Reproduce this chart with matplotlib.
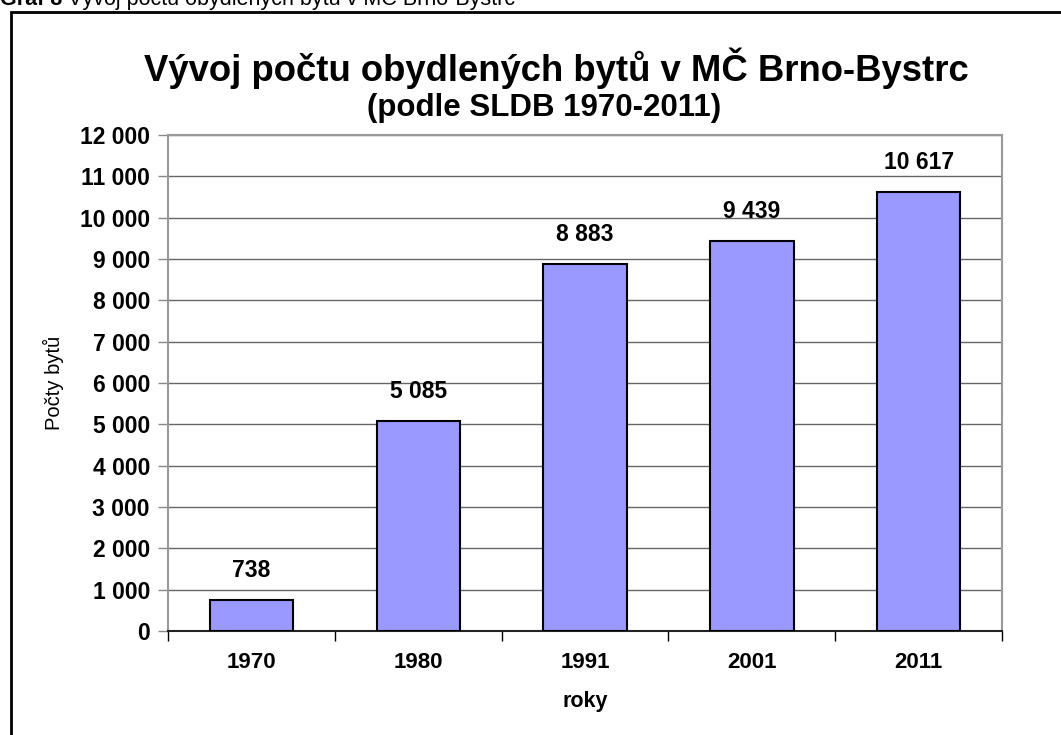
import matplotlib
matplotlib.use("Agg")
import matplotlib.pyplot as plt
from matplotlib.patches import Rectangle

plt.rcParams["font.family"] = ["Liberation Sans", "DejaVu Sans"]

years = ["1970", "1980", "1991", "2001", "2011"]
flats = [738, 5085, 8883, 9439, 10617]
labels = ["738", "5 085", "8 883", "9 439", "10 617"]
y_ticks = list(range(0, 12001, 1000))
y_tick_labels = [f"{v:,}".replace(",", " ") for v in y_ticks]

W, H = 1061, 735
fig = plt.figure(figsize=(W / 100, H / 100), dpi=100)

# outer frame (right and bottom edges fall outside the picture)
fig.patches.append(Rectangle((11 / W, -0.1), 1.2, 1 - 12 / H + 0.1,
                             transform=fig.transFigure, fill=False,
                             edgecolor="black", lw=2))

# caption above the frame, cut at the top edge like the source scan
cap = fig.text(0, 1 - 5 / H, "Graf 8", fontsize=15.5, fontweight="bold",
               va="baseline", ha="left")
fig.canvas.draw()
bb = cap.get_window_extent()
fig.text(bb.x1 / W, 1 - 5 / H, " Vývoj počtu obydlených bytů v MČ Brno-Bystrc",
         fontsize=15.5, va="baseline", ha="left")

ax = fig.add_axes([168 / W, 1 - 631 / H, (1002 - 168) / W, (631 - 135) / H])

x = range(len(years))
ax.bar(x, flats, width=0.5, color="#9999ff", edgecolor="black", lw=1.5, zorder=3)
for xi, v, lab in zip(x, flats, labels):
    ax.annotate(lab, (xi, v), xytext=(0, 13), textcoords="offset points",
                ha="center", va="bottom", fontsize=16.5, fontweight="bold")

ax.set_xlim(-0.5, len(years) - 0.5)
ax.set_ylim(0, 12000)
ax.set_yticks(y_ticks)
ax.set_yticklabels(y_tick_labels, fontsize=16.5, fontweight="bold")
ax.yaxis.grid(True, color="#666666", lw=1)
ax.set_axisbelow(True)

ax.set_xticks(list(x))
ax.set_xticklabels(years, fontsize=16, fontweight="bold")
ax.tick_params(axis="x", length=0, pad=15)
ax.set_xticks([i - 0.5 for i in range(len(years) + 1)], minor=True)
ax.tick_params(axis="x", which="minor", length=7, width=1, color="black")
ax.tick_params(axis="y", length=7, width=1, color="#888888", pad=6)

for side in ["left", "right", "top"]:
    ax.spines[side].set_color("#999999")
    ax.spines[side].set_linewidth(1.5)
ax.spines["bottom"].set_color("#222222")
ax.spines["bottom"].set_linewidth(1.5)

ax.set_ylabel("Počty bytů", fontsize=14.5)
ax.yaxis.set_label_coords(-(168 - 53) / (1002 - 168), (631 - 383) / (631 - 135))
ax.yaxis.label.set_va("center")
ax.set_xlabel("roky", fontsize=15.5, fontweight="bold")
ax.xaxis.set_label_coords(0.5, -(702 - 631) / (631 - 135))
ax.xaxis.label.set_va("center")

fig.text(556 / W, 1 - 68 / H, "Vývoj počtu obydlených bytů v MČ Brno-Bystrc",
         ha="center", va="center", fontsize=26.3, fontweight="bold")
fig.text(544 / W, 1 - 108 / H, "(podle SLDB 1970-2011)",
         ha="center", va="center", fontsize=22.5, fontweight="bold")

fig.savefig("out.png", dpi=100)
